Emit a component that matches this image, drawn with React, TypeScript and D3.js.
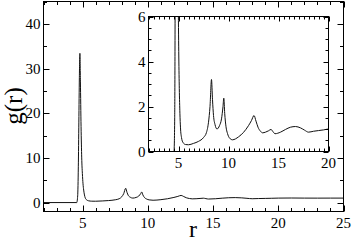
import { useEffect, useRef } from "react";
import * as d3 from "d3";

// radial distribution function
const rValues = [
  2, 4.55, 4.62, 4.67, 4.71, 4.75, 4.79, 4.83, 4.88, 4.93, 4.98, 5.03, 5.08, 5.14, 5.2, 5.3,
  5.45, 5.7, 6.0, 6.5, 7.0, 7.5, 7.8, 8.0, 8.15, 8.3, 8.4, 8.5, 8.65, 8.85, 9.1, 9.3, 9.45,
  9.53, 9.62, 9.75, 9.9, 10.1, 10.4, 11.0, 11.5, 12.0, 12.3, 12.55, 12.75, 12.95, 13.2,
  13.4, 13.7, 14.0, 14.25, 14.45, 14.65, 15.2, 15.7, 16.2, 16.7, 17.2, 17.6, 18.0, 18.5,
  19.0, 19.5, 20, 21, 22, 23, 24, 25,
];
const gValues = [
  0, 0, 1.5, 8, 18, 28, 33.4, 27, 17, 10, 6.5, 4.2, 2.8, 1.7, 1.05, 0.62,
  0.4, 0.31, 0.3, 0.36, 0.45, 0.62, 0.85, 1.3, 2.0, 3.2, 2.3, 1.6, 1.2, 1.0, 1.15, 1.45, 2.0,
  2.37, 1.7, 1.1, 0.8, 0.6, 0.52, 0.65, 0.85, 1.15, 1.38, 1.6, 1.35, 1.08, 0.9,
  0.83, 0.86, 0.92, 0.98, 0.88, 0.79, 0.86, 0.98, 1.08, 1.11, 1.05, 0.95, 0.86, 0.9,
  0.93, 0.96, 1.0, 1.02, 1.0, 0.99, 1.0, 1.0,
];

const mainXTicks = [5, 10, 15, 20, 25];
const mainYTicks = [0, 10, 20, 30, 40];
const insetXTicks = [5, 10, 15, 20];
const insetYTicks = [0, 2, 4, 6];

const FONT = "'Liberation Serif', 'DejaVu Serif', serif";

const App = () => {
  const ref = useRef<SVGSVGElement>(null);

  useEffect(() => {
    const svg = d3.select(ref.current);
    svg.selectAll("*").remove();
    const pts = rValues.map((r, i) => [r, gValues[i]] as [number, number]);

    // draws frame, inward ticks on four sides and labels
    const panel = (
      g: any,
      x: any,
      y: any,
      xMajor: number[],
      xMinorStep: number,
      yMajor: number[],
      yMinorStep: number,
      major: number,
      minor: number,
      clipId: string
    ) => {
      const [x0, x1] = x.range();
      const [y0, y1] = y.range(); // y0 bottom
      g.append("rect")
        .attr("x", x0)
        .attr("y", y1)
        .attr("width", x1 - x0)
        .attr("height", y0 - y1)
        .attr("fill", "white");

      g.append("clipPath")
        .attr("id", clipId)
        .append("rect")
        .attr("x", x0)
        .attr("y", y1)
        .attr("width", x1 - x0)
        .attr("height", y0 - y1);

      const line = d3
        .line<[number, number]>()
        .x((d) => x(d[0]))
        .y((d) => y(d[1]))
        .curve(d3.curveMonotoneX);
      g.append("path")
        .datum(pts)
        .attr("d", line)
        .attr("fill", "none")
        .attr("stroke", "#111")
        .attr("stroke-width", 1)
        .attr("clip-path", `url(#${clipId})`);

      const [dx0, dx1] = x.domain();
      const [dy0, dy1] = y.domain();
      const xm = d3.range(Math.ceil(dx0 / xMinorStep) * xMinorStep, dx1 + 1e-9, xMinorStep);
      const ym = d3.range(Math.ceil(dy0 / yMinorStep) * yMinorStep, dy1 + 1e-9, yMinorStep);
      const ticks = g.append("g").attr("stroke", "black").attr("stroke-width", 1);
      xm.forEach((v) => {
        const len = xMajor.some((m) => Math.abs(m - v) < 1e-6) ? major : minor;
        const px = Math.round(x(v)) + 0.5;
        ticks.append("line").attr("x1", px).attr("x2", px).attr("y1", y0).attr("y2", y0 - len);
        ticks.append("line").attr("x1", px).attr("x2", px).attr("y1", y1).attr("y2", y1 + len);
      });
      ym.forEach((v) => {
        const len = yMajor.some((m) => Math.abs(m - v) < 1e-6) ? major : minor;
        const py = Math.round(y(v)) + 0.5;
        ticks.append("line").attr("x1", x0).attr("x2", x0 + len).attr("y1", py).attr("y2", py);
        ticks.append("line").attr("x1", x1).attr("x2", x1 - len).attr("y1", py).attr("y2", py);
      });

      g.append("rect")
        .attr("x", x0)
        .attr("y", y1)
        .attr("width", x1 - x0)
        .attr("height", y0 - y1)
        .attr("fill", "none")
        .attr("stroke", "black")
        .attr("stroke-width", 1);

      g.selectAll(".xl")
        .data(xMajor)
        .enter()
        .append("text")
        .attr("x", (d: number) => x(d))
        .attr("y", y0 + 16)
        .attr("text-anchor", "middle")
        .style("font-family", FONT)
        .style("font-size", "15px")
        .text((d: number) => d);

      g.selectAll(".yl")
        .data(yMajor)
        .enter()
        .append("text")
        .attr("x", x0 - 3)
        .attr("y", (d: number) => y(d) + 5)
        .attr("text-anchor", "end")
        .style("font-family", FONT)
        .style("font-size", "15px")
        .text((d: number) => d);
    };

    const xMain = d3.scaleLinear().domain([2, 25]).range([43.5, 343.5]);
    const yMain = d3.scaleLinear().domain([-2, 45]).range([211.5, 1.5]);
    panel(svg.append("g"), xMain, yMain, mainXTicks, 1, mainYTicks, 5, 6, 3.5, "clipMain");

    const xIn = d3.scaleLinear().domain([2, 20]).range([148.5, 328.5]);
    const yIn = d3.scaleLinear().domain([0, 6]).range([151.5, 16.5]);
    panel(svg.append("g"), xIn, yIn, insetXTicks, 0.5, insetYTicks, 0.5, 5, 3, "clipInset");

    svg
      .append("text")
      .attr("transform", "translate(22,106) rotate(-90)")
      .attr("text-anchor", "middle")
      .style("font-family", FONT)
      .style("font-size", "25px")
      .text("g(r)");

    svg
      .append("text")
      .attr("x", 193)
      .attr("y", 237)
      .attr("text-anchor", "middle")
      .style("font-family", FONT)
      .style("font-size", "24px")
      .text("r");
  }, []);

  return (
    <svg
      ref={ref}
      width={353}
      height={242}
      style={{ position: "absolute", left: 0, top: 0, background: "white" }}
    />
  );
};

export default App;
